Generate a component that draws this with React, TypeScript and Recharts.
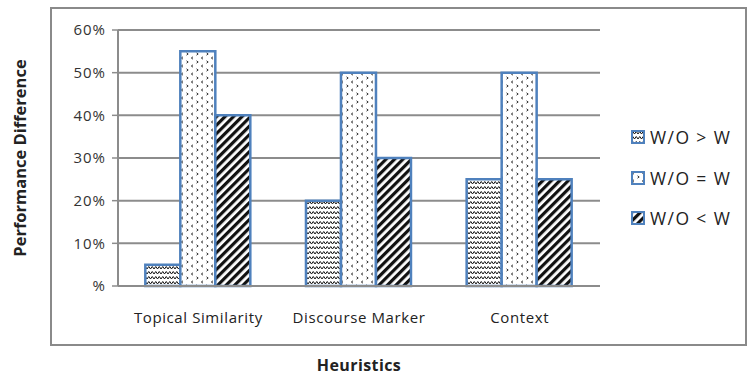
import React from "react";
import { BarChart, Bar, XAxis, YAxis, CartesianGrid } from "recharts";

// categories + series (percent)
const categories = ["Topical Similarity", "Discourse Marker", "Context"];
const woGreater = [5, 20, 25];
const woEqual = [55, 50, 50];
const woLess = [40, 30, 25];
const yTicks = [0, 10, 20, 30, 40, 50, 60];

const seriesNames = ["W/O > W", "W/O = W", "W/O < W"];
const patternIds = ["patWave", "patDots", "patStripe"];

const data = categories.map((c, i) => ({
  name: c,
  gt: woGreater[i],
  eq: woEqual[i],
  lt: woLess[i],
}));

const FONT = "'Open Sans', sans-serif";
const BORDER = "#4F81BD";

function Patterns() {
  return (
    <defs>
      <pattern id="patWave" width="7" height="5" patternUnits="userSpaceOnUse">
        <rect width="7" height="5" fill="#fff" />
        <path d="M0 4 L1.75 1.5 L3.5 4 L5.25 1.5 L7 4" stroke="#111" strokeWidth="1" fill="none" />
      </pattern>
      <pattern id="patDots" width="10" height="8" patternUnits="userSpaceOnUse">
        <rect width="10" height="8" fill="#fff" />
        <path d="M3 0.8 L1.3 2 L3 3.2" stroke="#222" strokeWidth="0.9" fill="none" />
        <path d="M6.5 4.8 L8.2 6 L6.5 7.2" stroke="#222" strokeWidth="0.9" fill="none" />
      </pattern>
      <pattern id="patStripe" width="6" height="6" patternUnits="userSpaceOnUse" patternTransform="rotate(45)">
        <rect width="6" height="6" fill="#fff" />
        <rect width="3.2" height="6" fill="#111" />
      </pattern>
    </defs>
  );
}

function LegendBox() {
  return (
    <div style={{ position: "absolute", left: 631, top: 117, fontFamily: FONT, fontSize: 17.5, letterSpacing: 1.4, color: "#222" }}>
      {seriesNames.map((s, i) => (
        <div key={s} style={{ display: "flex", alignItems: "center", height: 40.5 }}>
          <svg width={14} height={14} style={{ marginRight: 5 }}>
            <rect x={1} y={1} width={12} height={12} fill={`url(#${patternIds[i]})`} stroke={BORDER} strokeWidth={2} />
          </svg>
          <span>{s}</span>
        </div>
      ))}
    </div>
  );
}

export default function App() {
  return (
    <div style={{ position: "absolute", left: 0, top: 0, width: 749, height: 377, background: "#fff" }}>
      <div
        style={{
          position: "absolute",
          left: 50,
          top: 7,
          width: 697,
          height: 339,
          border: "2px solid #8a8a8a",
          boxSizing: "border-box",
        }}
      />
      <BarChart
        width={749}
        height={377}
        data={data}
        margin={{ top: 30, right: 149, left: 0, bottom: 0 }}
        barGap={0}
        barCategoryGap="17%"
      >
        <Patterns />
        <CartesianGrid vertical={false} stroke="#8c8c8c" strokeWidth={2} />
        <XAxis
          dataKey="name"
          height={91}
          axisLine={{ stroke: "#8c8c8c", strokeWidth: 2 }}
          tickLine={false}
          tickMargin={20}
          tick={{ fontSize: 15, fill: "#222", fontFamily: FONT, letterSpacing: 0.6 }}
          label={{
            value: "Heuristics",
            position: "insideBottom",
            offset: 6,
            style: { fontSize: 16, fontWeight: 700, fill: "#222", fontFamily: FONT, letterSpacing: 0.4 },
          }}
        />
        <YAxis
          width={118}
          domain={[0, 60]}
          ticks={yTicks}
          interval={0}
          axisLine={{ stroke: "#8c8c8c", strokeWidth: 2 }}
          tickLine={{ stroke: "#8c8c8c", strokeWidth: 1.5 }}
          tickSize={6}
          tickMargin={6}
          tickFormatter={(v) => (v === 0 ? "%" : `${v}%`)}
          tick={{ fontSize: 15, fill: "#333", fontFamily: FONT, letterSpacing: 1 }}
          label={{
            value: "Performance Difference",
            angle: -90,
            position: "insideLeft",
            offset: 20,
            style: { textAnchor: "middle", fontSize: 16.5, fontWeight: 700, fill: "#222", fontFamily: FONT },
          }}
        />
        <Bar dataKey="gt" name={seriesNames[0]} fill="url(#patWave)" stroke={BORDER} strokeWidth={2.5} isAnimationActive={false} />
        <Bar dataKey="eq" name={seriesNames[1]} fill="url(#patDots)" stroke={BORDER} strokeWidth={2.5} isAnimationActive={false} />
        <Bar dataKey="lt" name={seriesNames[2]} fill="url(#patStripe)" stroke={BORDER} strokeWidth={2.5} isAnimationActive={false} />
      </BarChart>
      <LegendBox />
    </div>
  );
}
